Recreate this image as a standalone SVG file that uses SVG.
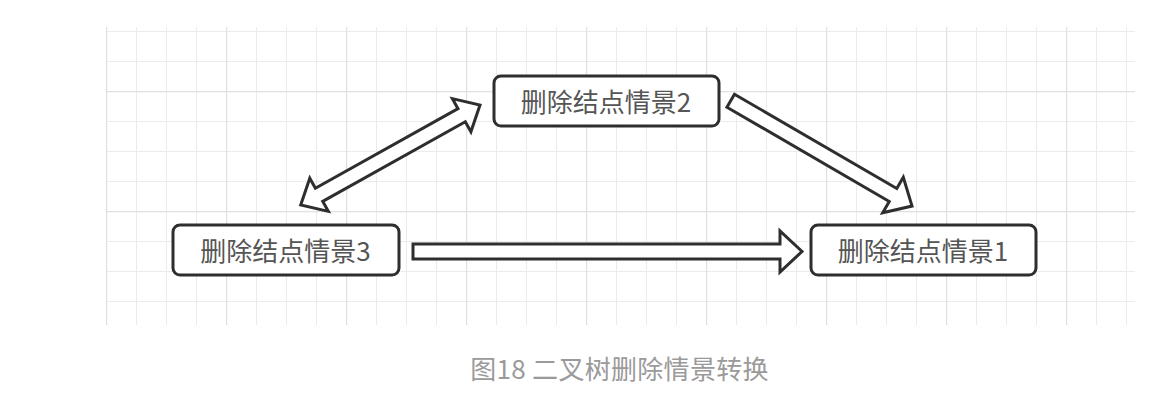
<svg xmlns="http://www.w3.org/2000/svg" width="1162" height="406" viewBox="0 0 1162 406">
  <defs>
    <pattern id="gridMinor" patternUnits="userSpaceOnUse" x="106" y="91" width="30" height="30">
      <path d="M0.5,0 V30 M0,0.5 H30" fill="none" stroke="#ebebeb" stroke-width="1"/>
    </pattern>
    <pattern id="gridMajor" patternUnits="userSpaceOnUse" x="106" y="91" width="120" height="120">
      <path d="M0.5,0 V120 M0,0.5 H120" fill="none" stroke="#e0e0e0" stroke-width="1.4"/>
    </pattern>
  </defs>
  <style>
    .node rect { fill: #ffffff; stroke: #2e2e2e; stroke-width: 3; }
    .node text { font-family: "Noto Sans CJK SC", "Liberation Sans", sans-serif; font-size: 26px; fill: #555555; text-anchor: middle; }
    .arrow { fill: #ffffff; stroke: #2e2e2e; stroke-width: 3; stroke-linejoin: miter; }
    .caption { font-family: "Noto Sans CJK SC", "Liberation Sans", sans-serif; font-size: 26px; letter-spacing: 0.3px; fill: #9a9a9a; text-anchor: middle; }
  </style>

  <rect width="1162" height="406" fill="#ffffff"/>

  <!-- background grid -->
  <g id="grid">
    <rect x="106" y="27" width="1029" height="298" fill="url(#gridMinor)"/>
    <rect x="106" y="27" width="1029" height="298" fill="url(#gridMajor)"/>
  </g>

  <!-- hollow block arrows -->
  <g id="connectors">
    <!-- scene 3 to scene 1 -->
    <path class="arrow" transform="translate(413,251.5)"
          d="M0,-7.5 H367 V-20.5 L389,0 L367,20.5 V7.5 H0 Z"/>
    <!-- scene 2 to scene 1 -->
    <path class="arrow" transform="translate(730.7,100.7) rotate(30.15)"
          d="M0,-7.5 H187.7 V-20.5 L209.7,0 L187.7,20.5 V7.5 H0 Z"/>
    <!-- scene 3 and scene 2, both ways -->
    <path class="arrow" transform="translate(300.7,205) rotate(-29.15)"
          d="M0,0 L21,-19 V-7.5 H184.3 V-19 L205.3,0 L184.3,19 V7.5 H21 V19 Z"/>
  </g>

  <g id="scene2" class="node">
    <rect x="494" y="76" width="225" height="50" rx="7"/>
    <text x="606" y="112">删除结点情景2</text>
  </g>

  <g id="scene3" class="node">
    <rect x="173" y="225" width="226" height="50" rx="7"/>
    <text x="285.5" y="261">删除结点情景3</text>
  </g>

  <g id="scene1" class="node">
    <rect x="811" y="225" width="225" height="50" rx="7"/>
    <text x="923" y="261">删除结点情景1</text>
  </g>

  <text class="caption" x="619.5" y="379">图18 二叉树删除情景转换</text>
</svg>
